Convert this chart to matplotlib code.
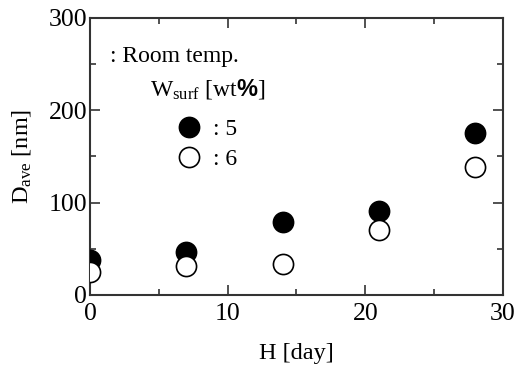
import matplotlib
matplotlib.use('Agg')
import matplotlib.pyplot as plt
from matplotlib.ticker import MultipleLocator

# Data
days = [0, 7, 14, 21, 28]
d_ave_w5 = [38, 47, 79, 91, 175]
d_ave_w6 = [25, 31, 34, 70, 139]
series_labels = [': 5', ': 6']

plt.rcParams['font.family'] = 'Liberation Serif'
plt.rcParams['mathtext.fontset'] = 'custom'
plt.rcParams['mathtext.rm'] = 'Liberation Serif'
plt.rcParams['mathtext.it'] = 'Liberation Serif:italic'
plt.rcParams['mathtext.sf'] = 'Liberation Sans:bold'

fig = plt.figure(figsize=(5.19, 3.65), dpi=100)
ax = fig.add_axes([0.1734, 0.1918, 0.7957, 0.7589])

axis_color = '#333333'
ax.plot(days, d_ave_w5, 'o', ms=14.5, mfc='black', mec='black', mew=1.2,
        ls='none', label=series_labels[0], zorder=3)
ax.plot(days, d_ave_w6, 'o', ms=14.5, mfc='white', mec='black', mew=1.2,
        ls='none', label=series_labels[1], zorder=4)

ax.set_xlim(0, 30)
ax.set_ylim(0, 300)
ax.xaxis.set_major_locator(MultipleLocator(10))
ax.xaxis.set_minor_locator(MultipleLocator(5))
ax.yaxis.set_major_locator(MultipleLocator(100))
ax.yaxis.set_minor_locator(MultipleLocator(50))
ax.tick_params(which='both', direction='in', top=True, right=True,
               color=axis_color, width=1.2, labelsize=18.5, pad=2)
ax.tick_params(axis='x', which='both', pad=6)
ax.tick_params(which='major', length=7)
ax.tick_params(which='minor', length=4)
for s in ax.spines.values():
    s.set_linewidth(1.5)
    s.set_color(axis_color)

ax.set_xlabel('H [day]', fontsize=17.5, labelpad=13)
ax.set_ylabel(r'D$_{\mathrm{ave}}$ [nm]', fontsize=17.5, labelpad=11)

ax.text(0.048, 0.84, ': Room temp.', transform=ax.transAxes, fontsize=17,
        va='baseline')
ax.text(0.145, 0.722, r'W$_{\mathrm{surf}}$ [wt$\mathsf{\%}$]',
        transform=ax.transAxes, fontsize=17, va='baseline')

ax.legend(loc='upper left', bbox_to_anchor=(0.21, 0.636), frameon=False,
          fontsize=17, handletextpad=0.55, labelspacing=0.35,
          handlelength=1.0, borderpad=0, borderaxespad=0)

fig.savefig('out.png', dpi=100)
